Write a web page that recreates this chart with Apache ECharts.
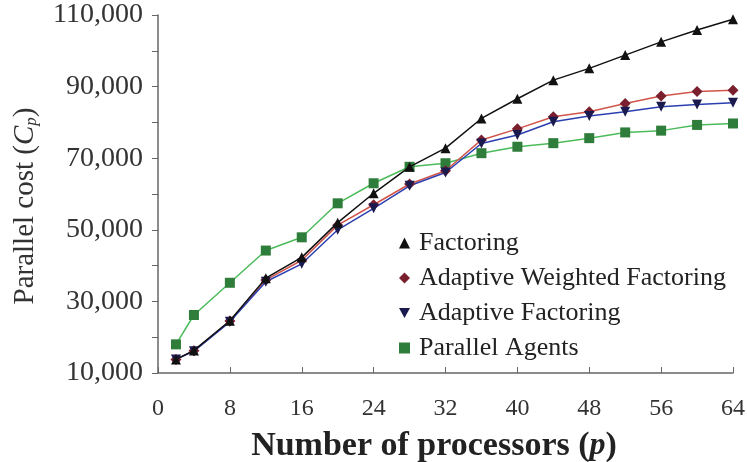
<!DOCTYPE html>
<html>
<head>
<meta charset="utf-8">
<script src="https://cdn.jsdelivr.net/npm/echarts@6/dist/echarts.min.js"></script>
<style>html,body{margin:0;padding:0;background:#fff}#c{width:747px;height:462px}</style>
</head>
<body>
<div id="c"></div>
<script>
var processors = [2, 4, 8, 12, 16, 20, 24, 28, 32, 36, 40, 44, 48, 52, 56, 60, 64];
var factoring = [13800, 16300, 24600, 36500, 42300, 52000, 60200, 67600, 72800, 81100, 86600, 91800, 95100, 98800, 102500, 105800, 108800];
var adaptiveWeighted = [13800, 16200, 24500, 36000, 41500, 51300, 57000, 62800, 66500, 75100, 78200, 81600, 83000, 85300, 87400, 88600, 89000];
var adaptiveFactoring = [13800, 16100, 24300, 35500, 40500, 50000, 56000, 62300, 66000, 74100, 76500, 80200, 81800, 83000, 84400, 85000, 85500];
var parallelAgents = [18000, 26200, 35200, 44200, 47900, 57400, 63000, 67600, 68600, 71400, 73200, 74200, 75600, 77200, 77700, 79300, 79700];
var seriesNames = ['Factoring', 'Adaptive Weighted Factoring', 'Adaptive Factoring', 'Parallel Agents'];
var xTicks = [0, 8, 16, 24, 32, 40, 48, 56, 64];
var yLabelTicks = [10000, 30000, 50000, 70000, 90000, 110000];

function pairs(vals) { return processors.map(function (p, i) { return [p, vals[i]]; }); }
function fmt(v) { return String(v).replace(/\B(?=(\d{3})+(?!\d))/g, ','); }

var FONT = 'Liberation Serif';
var chart = echarts.init(document.getElementById('c'), null, { renderer: 'canvas' });
var invTri = 'path://M0,0 L10,0 L5,9 Z';

chart.setOption({
  animation: false,
  backgroundColor: '#fff',
  textStyle: { fontFamily: FONT },
  grid: { left: 158, right: 14, top: 15, bottom: 89, outerBoundsMode: 'none', containLabel: false },
  legend: {
    orient: 'vertical', left: 394, top: 225, itemGap: 9,
    itemWidth: 11, itemHeight: 11,
    textStyle: { fontFamily: FONT, fontSize: 26, color: '#222', padding: [0, 0, 0, 4] },
    data: [
      { name: seriesNames[0], icon: 'triangle', itemStyle: { color: '#111' } },
      { name: seriesNames[1], icon: 'diamond', itemStyle: { color: '#7a1f2e' } },
      { name: seriesNames[2], icon: invTri, itemStyle: { color: '#1a1a4e' } },
      { name: seriesNames[3], icon: 'rect', itemStyle: { color: '#2f7d3a' } }
    ]
  },
  xAxis: {
    type: 'value', min: 0, max: 64, interval: 8,
    name: 'Number of processors ({i|p})', nameLocation: 'middle', nameGap: 56,
    nameTextStyle: { fontFamily: FONT, fontSize: 34, fontWeight: 'bold', color: '#222', padding: [0, 23, 0, 0],
      rich: { i: { fontFamily: FONT, fontSize: 32, fontStyle: 'italic', color: '#222' } } },
    axisLine: { lineStyle: { color: '#666', width: 1.5 } },
    axisTick: { inside: true, length: 6, lineStyle: { color: '#666' } },
    axisLabel: { fontFamily: FONT, fontSize: 24, color: '#333', margin: 24,
      formatter: function (v) { return xTicks.indexOf(v) >= 0 ? String(v) : ''; } },
    splitLine: { show: false }
  },
  yAxis: {
    type: 'value', min: 10000, max: 110000, interval: 10000,
    name: 'Parallel cost ({i|C}{s|p})', nameLocation: 'middle', nameGap: 118, nameRotate: 90,
    nameTextStyle: { fontFamily: FONT, fontSize: 29, color: '#333', padding: [0, 24, 0, 0],
      rich: { i: { fontFamily: FONT, fontSize: 29, fontStyle: 'italic', color: '#333' },
              s: { fontFamily: FONT, fontSize: 17, fontStyle: 'italic', color: '#333', padding: [12, 0, 0, 0] } } },
    axisLine: { lineStyle: { color: '#666', width: 1.5 } },
    axisTick: { inside: false, length: 6, lineStyle: { color: '#666' } },
    axisLabel: { fontFamily: FONT, fontSize: 28, color: '#333', margin: 15,
      formatter: function (v) { return yLabelTicks.indexOf(v) >= 0 ? fmt(v) : ''; } },
    splitLine: { show: false }
  },
  series: [
    { name: seriesNames[0], type: 'line', data: pairs(factoring), symbol: 'triangle', symbolSize: 10,
      lineStyle: { color: '#111', width: 1.5 }, itemStyle: { color: '#111' }, z: 4 },
    { name: seriesNames[1], type: 'line', data: pairs(adaptiveWeighted), symbol: 'diamond', symbolSize: 11,
      lineStyle: { color: '#d0544a', width: 1.5 }, itemStyle: { color: '#7a1f2e' }, z: 3 },
    { name: seriesNames[2], type: 'line', data: pairs(adaptiveFactoring), symbol: invTri, symbolSize: 10,
      lineStyle: { color: '#2b3fb0', width: 1.5 }, itemStyle: { color: '#1a1a4e' }, z: 3 },
    { name: seriesNames[3], type: 'line', data: pairs(parallelAgents), symbol: 'rect', symbolSize: 10,
      lineStyle: { color: '#4cbb5a', width: 1.5 }, itemStyle: { color: '#2f7d3a' }, z: 2 }
  ]
});
</script>
</body>
</html>
